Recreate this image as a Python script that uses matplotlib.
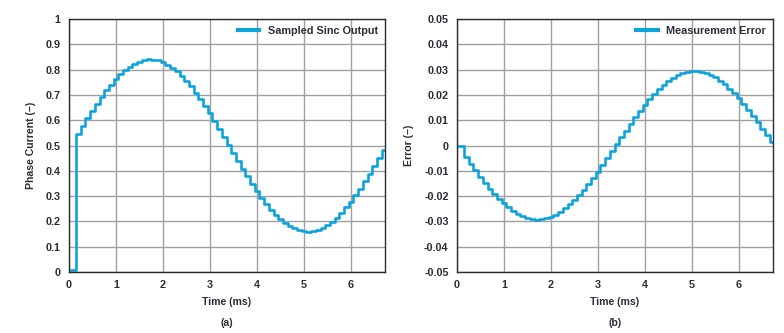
import numpy as np
import matplotlib
matplotlib.use("Agg")
import matplotlib.pyplot as plt

plt.rcParams["font.family"] = ["Liberation Sans", "DejaVu Sans"]
plt.rcParams["font.weight"] = "bold"

# sample instants (ms): 0.1 ms hold period, first sample at 0.15 ms
t_start = 0.15
t_step = 0.1
t_end = 6.75

# sampled sinc output, one value per hold period
sinc_initial = 0.008
sinc_output = [0.545, 0.576, 0.607, 0.637, 0.665, 0.692, 0.718, 0.741, 0.763, 0.782,
               0.798, 0.812, 0.823, 0.832, 0.837, 0.840, 0.839, 0.836, 0.829, 0.820,
               0.808, 0.793, 0.776, 0.756, 0.734, 0.709, 0.684, 0.656, 0.627, 0.597,
               0.566, 0.534, 0.502, 0.471, 0.439, 0.408, 0.378, 0.348, 0.321, 0.294,
               0.270, 0.247, 0.227, 0.210, 0.194, 0.182, 0.172, 0.165, 0.161, 0.160,
               0.162, 0.167, 0.175, 0.186, 0.199, 0.215, 0.234, 0.255, 0.278, 0.303,
               0.330, 0.358, 0.388, 0.419, 0.450, 0.482]

error_initial = 0.0
meas_error = [-0.0045, -0.0072, -0.0098, -0.0123, -0.0147, -0.0170, -0.0191, -0.0211, -0.0228, -0.0244,
              -0.0258, -0.0269, -0.0278, -0.0285, -0.0290, -0.0293, -0.0292, -0.0288, -0.0282, -0.0273,
              -0.0262, -0.0248, -0.0232, -0.0215, -0.0195, -0.0174, -0.0152, -0.0128, -0.0103, -0.0077,
              -0.0050, -0.0023, 0.0005, 0.0032, 0.0059, 0.0086, 0.0112, 0.0137, 0.0161, 0.0183,
              0.0203, 0.0222, 0.0239, 0.0253, 0.0266, 0.0277, 0.0285, 0.0291, 0.0294, 0.0295,
              0.0292, 0.0287, 0.0279, 0.0269, 0.0256, 0.0242, 0.0225, 0.0206, 0.0186, 0.0164,
              0.0141, 0.0117, 0.0092, 0.0066, 0.0040, 0.0014]

x_ticks = [0, 1, 2, 3, 4, 5, 6]
sinc_yticks = [0, 0.1, 0.2, 0.3, 0.4, 0.5, 0.6, 0.7, 0.8, 0.9, 1]
sinc_ylabels = ["0", "0.1", "0.2", "0.3", "0.4", "0.5", "0.6", "0.7", "0.8", "0.9", "1"]
err_yticks = [-0.05, -0.04, -0.03, -0.02, -0.01, 0, 0.01, 0.02, 0.03, 0.04, 0.05]
err_ylabels = ["-0.05", "-0.04", "-0.03", "-0.02", "-0.01", "0", "0.01", "0.02", "0.03", "0.04", "0.05"]

line_color = "#0fa3dc"
text_color = "#2e2e3a"
grid_color = "#a0a0a0"

n = len(sinc_output)
t_samples = t_start + t_step * np.arange(n)
t = np.concatenate([[0.0], t_samples, [t_end]])
y_sinc = np.concatenate([[sinc_initial], sinc_output, [sinc_output[-1]]])
y_err = np.concatenate([[error_initial], meas_error, [meas_error[-1]]])

fig = plt.figure(figsize=(7.84, 3.33), dpi=100)
ax1 = fig.add_axes([69 / 784, 1 - 272 / 333, 316 / 784, 253 / 333])
ax2 = fig.add_axes([457 / 784, 1 - 272 / 333, 316 / 784, 253 / 333])


def style(ax, yticks, ylabels, ylim, ylabel, tag, tag_x):
    ax.set_xlim(0, 6.72)
    ax.set_ylim(*ylim)
    ax.set_xticks(x_ticks)
    ax.set_xticklabels([str(v) for v in x_ticks])
    ax.set_yticks(yticks)
    ax.set_yticklabels(ylabels)
    ax.tick_params(length=0, labelsize=7.8, colors=text_color, pad=6)
    for lab in ax.get_xticklabels() + ax.get_yticklabels():
        lab.set_fontweight("bold")
    ax.grid(True, color=grid_color, linewidth=1.0)
    ax.set_axisbelow(True)
    for sp in ax.spines.values():
        sp.set_color("#2a2a35")
        sp.set_linewidth(1.0)
        sp.set_zorder(5)
    ax.set_xlabel("Time (ms)", fontsize=7.6, fontweight="bold", color=text_color, labelpad=5)
    ax.set_ylabel(ylabel, fontsize=7.6, fontweight="bold", color=text_color, labelpad=7)
    leg = ax.legend(loc="upper right", frameon=False, fontsize=7.8, handlelength=2.0,
                    handletextpad=0.8, borderaxespad=0.25)
    for txt in leg.get_texts():
        txt.set_color(text_color)
        txt.set_fontweight("bold")
    for h in leg.get_lines():
        h.set_linewidth(3.0)
    fig.text(tag_x, 1 - 323 / 333, tag, ha="center", va="center", fontsize=7.6,
             fontweight="bold", color=text_color)


ax1.step(t, y_sinc, where="post", color=line_color, linewidth=1.9, label="Sampled Sinc Output")
style(ax1, sinc_yticks, sinc_ylabels, (0, 1), "Phase Current (–)", "(a)", 227 / 784)

ax2.step(t, y_err, where="post", color=line_color, linewidth=1.9, label="Measurement Error")
style(ax2, err_yticks, err_ylabels, (-0.05, 0.05), "Error (–)", "(b)", 615 / 784)

fig.savefig("out.png", dpi=100)
